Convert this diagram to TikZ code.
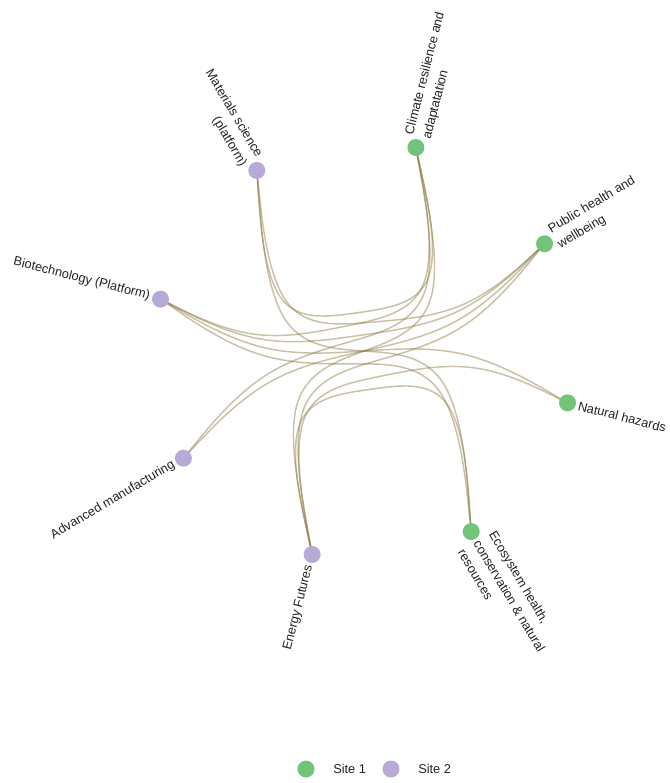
\documentclass[tikz,border=0pt]{standalone}
\usepackage{fontspec}
\setmainfont{Liberation Sans}
\usepackage{tikz}
\usetikzlibrary{calc}
\pgfdeclarelayer{bg}
\pgfsetlayers{bg,main}

\definecolor{siteone}{HTML}{72C47B}
\definecolor{sitetwo}{HTML}{B8AAD6}
\definecolor{linkcol}{HTML}{86763A}
\definecolor{labelcol}{HTML}{222222}

\begin{document}
\begin{tikzpicture}[x=0.75pt,y=0.75pt,
	dotone/.style={circle,fill=siteone,minimum size=12.75pt,inner sep=0pt},
	dottwo/.style={circle,fill=sitetwo,minimum size=12.75pt,inner sep=0pt},
	lbl/.style={text=labelcol,font=\fontsize{9.6}{13.5}\selectfont,inner sep=0pt},
	link/.style={draw=linkcol,draw opacity=0.45,line width=1.1pt}]
\useasboundingbox (-364,-432) rectangle (306,351);

\coordinate (o) at (0,0);
\coordinate (s1) at (8.2:105);
\coordinate (s2) at (188.2:105);

%% Site 1
\node[dotone] (clim) at (75.7:210) {};
\node[dotone] (pub) at (30.7:210) {};
\node[dotone] (nat) at (-14.3:210) {};
\node[dotone] (eco) at (-59.3:210) {};

%% Site 2
\node[dottwo] (ener) at (-104.3:210) {};
\node[dottwo] (adv) at (-149.3:210) {};
\node[dottwo] (bio) at (165.7:210) {};
\node[dottwo] (mat) at (120.7:210) {};

%% labels
\node[lbl,anchor=west,align=left,rotate=75.7] (clim-t) at (75.7:221) {Climate resilience and\\adaptatation};
\node[lbl,anchor=west,align=left,rotate=30.7] (pub-t) at (30.7:221) {Public health and\\wellbeing};
\node[lbl,anchor=west,rotate=-14.3] (nat-t) at (-14.3:221) {Natural hazards};
\node[lbl,anchor=west,align=left,rotate=-59.3] (eco-t) at (-59.3:221) {Ecosystem health,\\conservation \& natural\\resources};
\node[lbl,anchor=east,rotate=75.7] (ener-t) at (-104.3:221) {Energy Futures};
\node[lbl,anchor=east,rotate=30.7] (adv-t) at (-149.3:221) {Advanced manufacturing};
\node[lbl,anchor=east,rotate=-14.3] (bio-t) at (165.7:221) {Biotechnology (Platform)};
\node[lbl,anchor=east,align=right,rotate=-59.3] (mat-t) at (120.7:221) {Materials science\\(platform)};

%% bundled links
\begin{pgfonlayer}{bg}
\foreach \a/\b in {bio/clim,bio/pub,bio/nat,bio/eco,ener/clim,ener/pub,ener/nat,ener/eco,mat/clim,mat/pub,mat/eco,adv/clim,adv/pub}{
	\coordinate (q1) at ($0.8*(s2)+0.15*(\a.center)+0.05*(\b.center)$);
	\coordinate (q2) at ($0.8*(o)+0.1*(\a.center)+0.1*(\b.center)$);
	\coordinate (q3) at ($0.8*(s1)+0.05*(\a.center)+0.15*(\b.center)$);
	\draw[link] (\a.center) -- ($5/6*(\a.center)+1/6*(q1)$)
		.. controls ($2/3*(\a.center)+1/3*(q1)$) and ($1/3*(\a.center)+2/3*(q1)$) .. ($1/6*(\a.center)+4/6*(q1)+1/6*(q2)$)
		.. controls ($2/3*(q1)+1/3*(q2)$) and ($1/3*(q1)+2/3*(q2)$) .. ($1/6*(q1)+4/6*(q2)+1/6*(q3)$)
		.. controls ($2/3*(q2)+1/3*(q3)$) and ($1/3*(q2)+2/3*(q3)$) .. ($1/6*(q2)+4/6*(q3)+1/6*(\b.center)$)
		.. controls ($2/3*(q3)+1/3*(\b.center)$) and ($1/3*(q3)+2/3*(\b.center)$) .. ($1/6*(q3)+5/6*(\b.center)$)
		-- (\b.center);
}
\end{pgfonlayer}

%% legend
\node[dotone] (key1) at (-58,-418) {};
\node[lbl,anchor=west] (key1-t) at (-31,-418) {Site 1};
\node[dottwo] (key2) at (27,-418) {};
\node[lbl,anchor=west] (key2-t) at (54,-418) {Site 2};

\end{tikzpicture}
\end{document}
